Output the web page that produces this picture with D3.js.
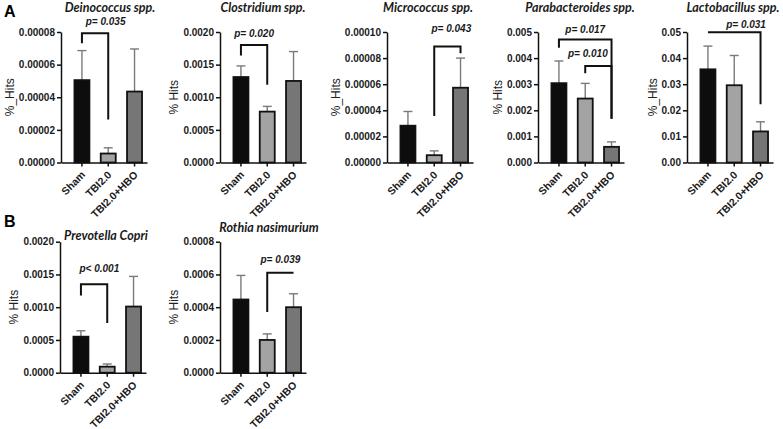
<!DOCTYPE html>
<html lang="en">
  <head>
    <meta charset="UTF-8" />
    <title>% Hits by group</title>
    <script src="https://cdn.jsdelivr.net/npm/d3@7"></script>
    <style>
      body { margin: 0; background: #fff; }
      svg { display: block; font-family: "Liberation Sans", Arial, sans-serif; }
      .axis path, .axis line { stroke: #111; stroke-width: 1.5px; }
      .axis text { font-size: 10px; font-weight: bold; fill: #1a1a1a; }
      .xlab text { font-size: 10.5px; }
      .title { font-family: Lato, "Liberation Sans", sans-serif; font-size: 12.5px; font-weight: bold; font-style: italic; fill: #1a1a1a; }
      .ptext { font-size: 10px; font-weight: bold; font-style: italic; fill: #1a1a1a; }
      .ylab { font-size: 12px; fill: #222; }
    </style>
  </head>
  <body>
    <div id="chart"></div>
    <script>
      // groups on every x axis
      const groups = ["Sham", "TBI2.0", "TBI2.0+HBO"];

      // mean and SEM (upper error only)
      const deinococcusMean = [0.0000505, 0.0000055, 0.0000435];
      const deinococcusSem  = [0.0000181, 0.0000035, 0.0000261];
      const clostridiumMean = [0.00131, 0.00078, 0.00125];
      const clostridiumSem  = [0.00017, 0.00008, 0.00045];
      const micrococcusMean = [0.0000282, 0.0000056, 0.0000573];
      const micrococcusSem  = [0.0000109, 0.0000033, 0.0000227];
      const parabacteroidesMean = [0.00304, 0.00245, 0.0006];
      const parabacteroidesSem  = [0.00085, 0.00058, 0.00019];
      const lactobacillusMean = [0.0357, 0.0296, 0.0119];
      const lactobacillusSem  = [0.0089, 0.0114, 0.0037];
      const prevotellaMean = [0.00055, 0.000092, 0.00101];
      const prevotellaSem  = [0.00009, 0.000041, 0.00046];
      const rothiaMean = [0.000447, 0.0002, 0.0004];
      const rothiaSem  = [0.000147, 0.000037, 0.000082];

      // y axis: max, step, decimals
      const yMax   = [0.00008, 0.002, 0.0001, 0.005, 0.05, 0.002, 0.0008];
      const yStep  = [0.00002, 0.0005, 0.00002, 0.001, 0.01, 0.0005, 0.0002];
      const yDigits = [5, 4, 5, 3, 2, 4, 4];

      // significance brackets: groups i-j, bracket top, leg ends, label height (data units),
      // c = group index the p label sits over
      const deinococcusSig = [{ i: 0, j: 1, top: 0.0000792, left: 0.0000731, right: 0.0000263, at: 0.0000843, c: 0.9, p: "p= 0.035" }];
      const clostridiumSig = [{ i: 0, j: 1, top: 0.0018, left: 0.00164, right: 0.00119, at: 0.00193, c: 0.5, p: "p= 0.020" }];
      const micrococcusSig = [{ i: 1, j: 2, top: 0.0000889, left: 0.0000357, right: 0.0000838, at: 0.0001, c: 1.65, p: "p= 0.043" }];
      const parabacteroidesSig = [
        { i: 0, j: 2, top: 0.00471, left: 0.0044, right: 0.00168, at: 0.00496, c: 1.0, p: "p= 0.017" },
        { i: 1, j: 2, top: 0.0037, left: 0.00342, right: 0.00168, at: 0.00404, c: 1.1, p: "p= 0.010" }
      ];
      const lactobacillusSig = [{ i: 0, j: 2, top: 0.0499, left: 0.0499, right: 0.0223, at: 0.0516, c: 1.45, p: "p= 0.031" }];
      const prevotellaSig = [{ i: 0, j: 1, top: 0.00135, left: 0.00118, right: 0.00076, at: 0.00153, c: 0.7, p: "p< 0.001" }];
      const rothiaSig = [{ i: 1, j: 2, top: 0.00061, left: 0.00037, right: 0.00061, at: 0.00067, c: 1.5, p: "p= 0.039" }];

      const names = ["Deinococcus spp.", "Clostridium spp.", "Micrococcus spp.", "Parabacteroides spp.",
                     "Lactobacillus spp.", "Prevotella Copri", "Rothia nasimurium"];
      const yTitles = ["%_Hits", "% Hits", "%_Hits", "% Hits", "%_Hits", "% Hits", "% Hits"];
      const means = [deinococcusMean, clostridiumMean, micrococcusMean, parabacteroidesMean,
                     lactobacillusMean, prevotellaMean, rothiaMean];
      const sems = [deinococcusSem, clostridiumSem, micrococcusSem, parabacteroidesSem,
                    lactobacillusSem, prevotellaSem, rothiaSem];
      const sigs = [deinococcusSig, clostridiumSig, micrococcusSig, parabacteroidesSig,
                    lactobacillusSig, prevotellaSig, rothiaSig];

      // layout of each panel (y axis x, plot top, plot bottom, title centre offset, title baseline)
      const layout = [
        { x: 61,  top: 32,    bottom: 162.5, titleDx: 49, titleY: 12 },
        { x: 220, top: 32,    bottom: 162.5, titleDx: 43, titleY: 12 },
        { x: 387, top: 32,    bottom: 162.5, titleDx: 41, titleY: 12 },
        { x: 538, top: 32,    bottom: 162.5, titleDx: 42, titleY: 12 },
        { x: 687, top: 32,    bottom: 162.5, titleDx: 46, titleY: 12 },
        { x: 60,  top: 241.7, bottom: 372.7, titleDx: 46, titleY: 240 },
        { x: 220, top: 241.7, bottom: 372.7, titleDx: 49, titleY: 232 }
      ];

      const colors = ["#0d0d0d", "#a3a3a3", "#767676"];
      const W = 783, H = 429, plotW = 86;

      const svg = d3.select("#chart").append("svg")
        .attr("width", W)
        .attr("height", H);

      svg.append("text").attr("x", 4).attr("y", 17)
        .style("font-size", "16px").style("font-weight", "bold").text("A");
      svg.append("text").attr("x", 4).attr("y", 227)
        .style("font-size", "16px").style("font-weight", "bold").text("B");

      names.forEach((name, k) => {
        const L = layout[k];
        const h = L.bottom - L.top;
        const g = svg.append("g").attr("transform", `translate(${L.x},${L.top})`);

        const x = d3.scaleBand().domain(groups).range([0, plotW])
          .paddingInner(0.43).paddingOuter(0.35).align(0.73);
        const y = d3.scaleLinear().domain([0, yMax[k]]).range([h, 0]);
        const cx = idx => x(groups[0]) + x.bandwidth() / 2 + idx * x.step();

        const data = groups.map((grp, i) => ({ grp, mean: means[k][i], sem: sems[k][i], i }));

        // error bars (upper only)
        const eb = g.append("g").attr("stroke", "#7a7a7a").attr("stroke-width", 1.4);
        eb.selectAll(".v").data(data).join("line")
          .attr("x1", d => x(d.grp) + x.bandwidth() / 2)
          .attr("x2", d => x(d.grp) + x.bandwidth() / 2)
          .attr("y1", d => y(d.mean))
          .attr("y2", d => y(d.mean + d.sem));
        eb.selectAll(".c").data(data).join("line")
          .attr("x1", d => x(d.grp) + x.bandwidth() / 2 - 4.5)
          .attr("x2", d => x(d.grp) + x.bandwidth() / 2 + 4.5)
          .attr("y1", d => y(d.mean + d.sem))
          .attr("y2", d => y(d.mean + d.sem));

        // bars
        g.append("g").selectAll("rect").data(data).join("rect")
          .attr("x", d => x(d.grp))
          .attr("y", d => y(d.mean))
          .attr("width", x.bandwidth())
          .attr("height", d => h - y(d.mean))
          .attr("fill", d => colors[d.i])
          .attr("stroke", "#111")
          .attr("stroke-width", 1.8);

        // y axis
        const ticks = d3.range(0, yMax[k] + yStep[k] / 2, yStep[k]);
        const yAxis = g.append("g").attr("class", "axis")
          .call(d3.axisLeft(y).tickValues(ticks).tickFormat(d3.format(`.${yDigits[k]}f`))
            .tickSize(4).tickSizeOuter(0).tickPadding(2));

        // x axis, labels at 45 degrees
        const xAxis = g.append("g").attr("class", "axis xlab")
          .attr("transform", `translate(0,${h})`)
          .call(d3.axisBottom(x).tickSize(4).tickSizeOuter(0));
        xAxis.selectAll("text")
          .attr("text-anchor", "end")
          .attr("x", 0).attr("y", 0).attr("dy", 0)
          .attr("transform", "translate(4,13) rotate(-45)");

        // y title
        const bb = yAxis.node().getBBox();
        g.append("text").attr("class", "ylab")
          .attr("transform", `translate(${bb.x - 5},${h / 2}) rotate(-90)`)
          .attr("text-anchor", "middle")
          .text(yTitles[k]);

        // panel title
        svg.append("text").attr("class", "title")
          .attr("x", L.x + L.titleDx).attr("y", L.titleY)
          .attr("text-anchor", "middle")
          .text(name);

        // significance brackets
        sigs[k].forEach(s => {
          const x1 = cx(s.i);
          const x2 = cx(s.j);
          g.append("path")
            .attr("d", `M${x1},${y(s.left)}V${y(s.top)}H${x2}V${y(s.right)}`)
            .attr("fill", "none")
            .attr("stroke", "#111")
            .attr("stroke-width", 2);
          g.append("text").attr("class", "ptext")
            .attr("x", cx(s.c)).attr("y", y(s.at))
            .attr("text-anchor", "middle")
            .text(s.p);
        });
      });
    </script>
  </body>
</html>
